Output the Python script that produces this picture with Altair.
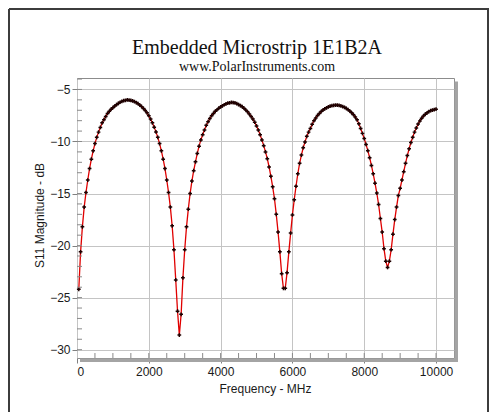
import altair as alt
import pandas as pd

# ---- data ----
freq_mhz = list(range(50, 10001, 50))
s11_db = [
    -24.2, -20.6, -18.2, -16.3, -14.9, -13.7, -12.6, -11.7, -10.9, -10.2,
    -9.6, -9.1, -8.65, -8.2, -7.9, -7.6, -7.3, -7.1, -6.9, -6.75,
    -6.6, -6.46, -6.34, -6.23, -6.15, -6.08, -6.04, -6.01, -6.02, -6.05,
    -6.1, -6.17, -6.26, -6.37, -6.5, -6.65, -6.82, -7.02, -7.25, -7.52,
    -7.85, -8.2, -8.62, -9.08, -9.6, -10.2, -10.9, -11.7, -12.6, -13.7,
    -14.9, -16.3, -18.1, -20.4, -23.3, -26.3, -28.6, -26.6, -23.1, -20.4,
    -18.2, -16.5, -15.0, -13.8, -12.8, -11.95, -11.15, -10.45, -9.85, -9.35,
    -8.9, -8.45, -8.1, -7.8, -7.52, -7.3, -7.1, -6.95, -6.8, -6.68,
    -6.57, -6.47, -6.38, -6.32, -6.28, -6.25, -6.26, -6.3, -6.36, -6.45,
    -6.55, -6.66, -6.8, -6.97, -7.15, -7.37, -7.6, -7.85, -8.15, -8.5,
    -8.9, -9.35, -9.85, -10.4, -11.0, -11.65, -12.45, -13.35, -14.35, -15.5,
    -17.0, -18.7, -20.6, -22.7, -24.1, -24.1, -22.6, -20.6, -18.8, -17.05,
    -15.6, -14.3, -13.1, -12.1, -11.3, -10.6, -10.05, -9.5, -9.1, -8.75,
    -8.35, -8.0, -7.75, -7.5, -7.3, -7.12, -6.98, -6.86, -6.76, -6.68,
    -6.61, -6.56, -6.53, -6.51, -6.51, -6.54, -6.58, -6.64, -6.72, -6.82,
    -6.94, -7.08, -7.24, -7.42, -7.65, -7.92, -8.3, -8.75, -9.22, -9.72,
    -10.28, -10.88, -11.55, -12.3, -13.1, -14.0, -14.95, -16.05, -17.4, -18.7,
    -20.3, -21.5, -22.1, -21.5, -20.4, -18.9, -17.5, -16.3, -15.2, -14.5,
    -13.7, -12.9, -12.1, -11.35, -10.7, -10.1, -9.6, -9.1, -8.7, -8.33,
    -8.02, -7.76, -7.55, -7.38, -7.24, -7.13, -7.04, -6.98, -6.93, -6.9,
]
x_major = [0, 2000, 4000, 6000, 8000, 10000]
y_major = [-30, -25, -20, -15, -10, -5]
x_minor = list(range(500, 10001, 500))
y_minor = list(range(-30, -3))

title_text = "Embedded Microstrip 1E1B2A"
subtitle_text = "www.PolarInstruments.com"
x_title = "Frequency - MHz"
y_title = "S11 Magnitude - dB"

W, H = 377, 280
SANS = "Liberation Sans"
SERIF = "Liberation Serif"
TXT = "#1a1a1a"

xs = alt.Scale(domain=[0, 10500], nice=False, zero=False)
ys = alt.Scale(domain=[-30.8, -3.9], nice=False, zero=False)

df = pd.DataFrame({"f": freq_mhz, "s": s11_db})
dummy = pd.DataFrame({"a": [0]})


def x_axis():
    return alt.Axis(values=x_major, title=x_title, titleFont=SANS, titleFontSize=12,
                    titleFontWeight="normal", titleColor=TXT, titleX=188, titleY=30,
                    titleAlign="center", titleBaseline="middle",
                    labelFont=SANS, labelFontSize=12, labelColor=TXT, labelPadding=3,
                    tickSize=5, tickColor="#808080", grid=True, gridColor="#c4c4c4",
                    domain=False, format="d")


def y_axis():
    return alt.Axis(values=y_major, title=y_title, titleFont=SANS, titleFontSize=12,
                    titleFontWeight="normal", titleColor=TXT, titleX=-38, titleY=137,
                    titleAngle=270, titleAlign="center", titleBaseline="middle",
                    labelFont=SANS, labelFontSize=12, labelColor=TXT, labelPadding=2,
                    tickSize=5, tickColor="#808080", grid=True, gridColor="#c4c4c4",
                    domain=False)


shadow_r = alt.Chart(dummy).mark_rect(color="#a4a4a4").encode(
    x=alt.value(W + 0.5), x2=alt.value(W + 4), y=alt.value(3.5), y2=alt.value(H + 4))
shadow_b = alt.Chart(dummy).mark_rect(color="#a4a4a4").encode(
    x=alt.value(3), x2=alt.value(W + 4), y=alt.value(H + 0.5), y2=alt.value(H + 4))

line = alt.Chart(df).mark_line(color="#e00000", strokeWidth=1.3).encode(
    x=alt.X("f:Q", scale=xs, axis=x_axis()),
    y=alt.Y("s:Q", scale=ys, axis=y_axis()))
pts = alt.Chart(df).mark_point(shape="cross", filled=True, size=14, color="#1e0000",
                               opacity=1).encode(
    x=alt.X("f:Q", scale=xs, axis=x_axis()), y=alt.Y("s:Q", scale=ys, axis=y_axis()))

minor_y = alt.Chart(pd.DataFrame({"f": [0] * len(y_minor), "s": y_minor})).mark_rule(
    color="#8a8a8a").encode(
    y=alt.Y("s:Q", scale=ys, axis=y_axis()), x=alt.value(0), x2=alt.value(5))
minor_x = alt.Chart(pd.DataFrame({"f": x_minor})).mark_rule(color="#8a8a8a").encode(
    x=alt.X("f:Q", scale=xs, axis=x_axis()), y=alt.value(H - 5), y2=alt.value(H))

t1 = alt.Chart(dummy).mark_text(font=SERIF, fontSize=20, color="#111111", align="center",
                                baseline="alphabetic").encode(
    x=alt.value(180), y=alt.value(-24.5), text=alt.value(title_text))
t2 = alt.Chart(dummy).mark_text(font=SERIF, fontSize=14, color="#111111", align="center",
                                baseline="alphabetic").encode(
    x=alt.value(180), y=alt.value(-7), text=alt.value(subtitle_text))

frame_top = alt.Chart(dummy).mark_rule(color="#3c3c3c", strokeWidth=2).encode(
    x=alt.value(-68), x2=alt.value(412), y=alt.value(-69))
frame_left = alt.Chart(dummy).mark_rule(color="#3c3c3c", strokeWidth=2).encode(
    x=alt.value(-68), y=alt.value(-69), y2=alt.value(340))
frame_right = alt.Chart(dummy).mark_rule(color="#3c3c3c", strokeWidth=2).encode(
    x=alt.value(411), y=alt.value(-69), y2=alt.value(340))

chart = alt.layer(
    line, pts, shadow_r, shadow_b, minor_y, minor_x, t1, t2,
    frame_top, frame_left, frame_right
).properties(
    width=W, height=H,
    padding={"left": 69, "top": 70, "right": 35, "bottom": 54},
    autosize=alt.AutoSizeParams(type="none"),
    background="white",
).configure_view(stroke="#8c8c8c", strokeWidth=1)

chart.save("out.html", embed_options={"renderer": "svg", "actions": False})
